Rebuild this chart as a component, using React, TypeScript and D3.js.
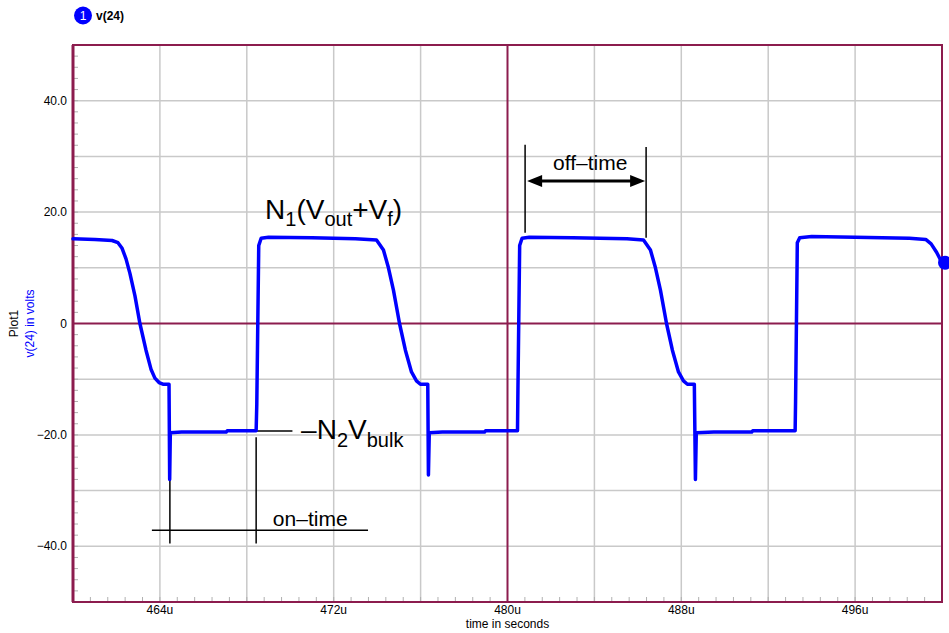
import React from 'react';
import * as d3 from 'd3';

// Trace v(24): time in microseconds, voltage in volts
const timeUs = [
  460.0, 461.01, 461.8, 462.07, 462.26, 462.44, 462.62, 462.85, 463.08, 463.36, 463.59, 463.77, 463.96, 464.14, 464.42,
  464.45, 464.48, 465.0, 467.05, 467.1, 468.43,
  468.46, 468.55, 468.66, 469.0, 471.0, 473.0, 473.97,
  474.29, 474.52, 474.75, 475.03, 475.3, 475.58, 475.81, 475.99, 476.33,
  476.36, 476.4, 477.0, 478.94, 478.99, 480.46,
  480.48, 480.56, 480.67, 481.0, 483.0, 485.5, 486.26,
  486.58, 486.81, 487.04, 487.32, 487.59, 487.87, 488.1, 488.28, 488.6,
  488.65, 488.69, 489.5, 491.24, 491.29, 493.24,
  493.26, 493.34, 493.45, 494.0, 496.0, 498.5, 499.25, 499.5, 499.75, 500.0,
];
const volts = [
  15.2, 15.1, 14.9, 14.5, 13.5, 11.6, 9.0, 5.0, 0.0, -4.8, -8.2, -9.8, -10.6, -10.9, -10.9,
  -28.0, -19.6, -19.5, -19.5, -19.25, -19.25,
  -14.5, 14.0, 15.3, 15.5, 15.4, 15.2, 15.0,
  13.2, 10.0, 6.0, 0.0, -4.8, -8.7, -10.3, -10.9, -10.9,
  -27.2, -19.6, -19.5, -19.5, -19.25, -19.25,
  -12.0, 14.0, 15.3, 15.5, 15.4, 15.2, 15.0,
  13.2, 10.0, 6.0, 0.0, -4.8, -8.7, -10.3, -10.9, -10.9,
  -28.0, -19.6, -19.5, -19.5, -19.25, -19.25,
  -14.0, 14.5, 15.4, 15.6, 15.5, 15.3, 15.1, 14.3, 12.8, 10.9,
];

const xTickValues = [464, 472, 480, 488, 496];
const xTickLabels = ['464u', '472u', '480u', '488u', '496u'];
const yTickValues = [40, 20, 0, -20, -40];
const yTickLabels = ['40.0', '20.0', '0', '\u221220.0', '\u221240.0'];
const xGridValues = [464, 468, 472, 476, 484, 488, 492, 496];
const yGridValues = [40, 30, 20, 10, -10, -20, -30, -40];

// annotation anchors (data units)
const onTimeStart = 464.46;
const onTimeEnd = 468.43;
const offTimeStart = 480.81;
const offTimeEnd = 486.38;

const FONT = '"Liberation Sans", Arial, Helvetica, sans-serif';
const MAROON = '#8c1c4e';
const GRID = '#c9c9c9';
const BLUE = '#0000ff';

export default function App() {
  const W = 949, H = 633;
  const L = 73, R = 942, T = 45, B = 602;
  const x = d3.scaleLinear().domain([460, 500]).range([L, R]);
  const y = d3.scaleLinear().domain([-50, 50]).range([B, T]);

  const pts: [number, number][] = timeUs.map((t, i) => [t, volts[i]]);
  const line = d3.line<[number, number]>().x(d => x(d[0])).y(d => y(d[1]));

  const xMinor = d3.range(1, 50).map(i => 460 + i * 0.8);
  const yMinor = d3.range(1, 50).map(i => -50 + i * 2);

  const arrowY = y(25.6);
  const ax1 = x(offTimeStart) + 2;
  const ax2 = x(offTimeEnd) - 1;

  return (
    <svg width={W} height={H} style={{ position: 'absolute', left: 0, top: 0, background: '#fff' }} fontFamily={FONT}>
      {/* legend */}
      <circle cx={83} cy={15.5} r={9} fill={BLUE} />
      <text x={83} y={20} fontSize={12} fill="#fff" textAnchor="middle">1</text>
      <text x={96} y={19.5} fontSize={12} fontWeight="bold" fill="#000">v(24)</text>

      {/* grid */}
      {xGridValues.map(v => (
        <line key={'gx' + v} x1={x(v)} x2={x(v)} y1={T} y2={B} stroke={GRID} strokeWidth={1.5} />
      ))}
      {yGridValues.map(v => (
        <line key={'gy' + v} x1={L} x2={R} y1={y(v)} y2={y(v)} stroke={GRID} strokeWidth={1.5} />
      ))}
      {/* minor ticks */}
      {xMinor.map((v, i) => (
        <line key={'mx' + i} x1={x(v)} x2={x(v)} y1={B - 5} y2={B} stroke="#b0b0b0" strokeWidth={1} />
      ))}
      {yMinor.map((v, i) => (
        <line key={'my' + i} x1={L} x2={L + 5} y1={y(v)} y2={y(v)} stroke="#b0b0b0" strokeWidth={1} />
      ))}
      {/* zero lines */}
      <line x1={L} x2={R} y1={y(0)} y2={y(0)} stroke={MAROON} strokeWidth={2} />
      <line x1={x(480)} x2={x(480)} y1={T} y2={B} stroke={MAROON} strokeWidth={2} />
      {/* border */}
      <rect x={L} y={T} width={R - L} height={B - T} fill="none" stroke={MAROON} strokeWidth={2} />
      <line x1={L} x2={L} y1={T} y2={B} stroke={MAROON} strokeWidth={3} />

      {/* y tick labels */}
      {yTickValues.map((v, i) => (
        <text key={'yl' + v} x={67} y={y(v) + 4} fontSize={12} textAnchor="end" fill="#000">{yTickLabels[i]}</text>
      ))}
      {/* x tick labels */}
      {xTickValues.map((v, i) => (
        <text key={'xl' + v} x={x(v)} y={614} fontSize={12} textAnchor="middle" fill="#000">{xTickLabels[i]}</text>
      ))}
      <text x={x(480)} y={628} fontSize={12} textAnchor="middle" fill="#000">time in seconds</text>
      <text transform={`translate(18, ${y(0)}) rotate(-90)`} fontSize={12} textAnchor="middle" fill="#000">Plot1</text>
      <text transform={`translate(34, ${y(0)}) rotate(-90)`} fontSize={12} textAnchor="middle" fill={BLUE}>v(24) in volts</text>

      {/* annotations */}
      <g stroke="#000" strokeWidth={1.5}>
        <line x1={x(offTimeStart)} x2={x(offTimeStart)} y1={y(32.1)} y2={y(16.3)} />
        <line x1={x(offTimeEnd)} x2={x(offTimeEnd)} y1={y(31.7)} y2={y(15.4)} />
        <line x1={ax1 + 12} x2={ax2 - 12} y1={arrowY} y2={arrowY} strokeWidth={3} />
        <line x1={x(onTimeStart) - 18} x2={x(473.58)} y1={y(-37.1)} y2={y(-37.1)} />
        <line x1={x(onTimeStart)} x2={x(onTimeStart)} y1={y(-20.4)} y2={y(-39.5)} />
        <line x1={x(onTimeEnd)} x2={x(onTimeEnd)} y1={y(-20.4)} y2={y(-39.5)} />
        <line x1={x(onTimeEnd)} x2={x(470.1)} y1={y(-19.3)} y2={y(-19.3)} />
      </g>
      <path d={`M${ax1},${arrowY} L${ax1 + 15},${arrowY - 6} L${ax1 + 15},${arrowY + 6} Z`} fill="#000" />
      <path d={`M${ax2},${arrowY} L${ax2 - 15},${arrowY - 6} L${ax2 - 15},${arrowY + 6} Z`} fill="#000" />

      <text x={x(468.84)} y={y(18.75)} fontSize={28} fill="#000">
        N<tspan fontSize={20} dy={7}>1</tspan><tspan dy={-7}>(V</tspan><tspan fontSize={20} dy={7}>out</tspan><tspan dy={-7}>+V</tspan><tspan fontSize={20} dy={7}>f</tspan><tspan dy={-7}>)</tspan>
      </text>
      <text x={x(470.5)} y={y(-20.7)} fontSize={28} fill="#000">
        {'\u2013N'}<tspan fontSize={20} dy={8}>2</tspan><tspan dy={-8}>V</tspan><tspan fontSize={20} dy={8}>bulk</tspan>
      </text>
      <text x={x(482.1)} y={y(27.5)} fontSize={21} fill="#000">{'off\u2013time'}</text>
      <text x={x(469.2)} y={y(-36.3)} fontSize={21} fill="#000">{'on\u2013time'}</text>

      {/* trace */}
      <path d={line(pts) || ''} fill="none" stroke={BLUE} strokeWidth={3.5} strokeLinejoin="round" strokeLinecap="round" />
      <circle cx={x(500) + 3} cy={y(volts[volts.length - 1])} r={7} fill={BLUE} />
    </svg>
  );
}
